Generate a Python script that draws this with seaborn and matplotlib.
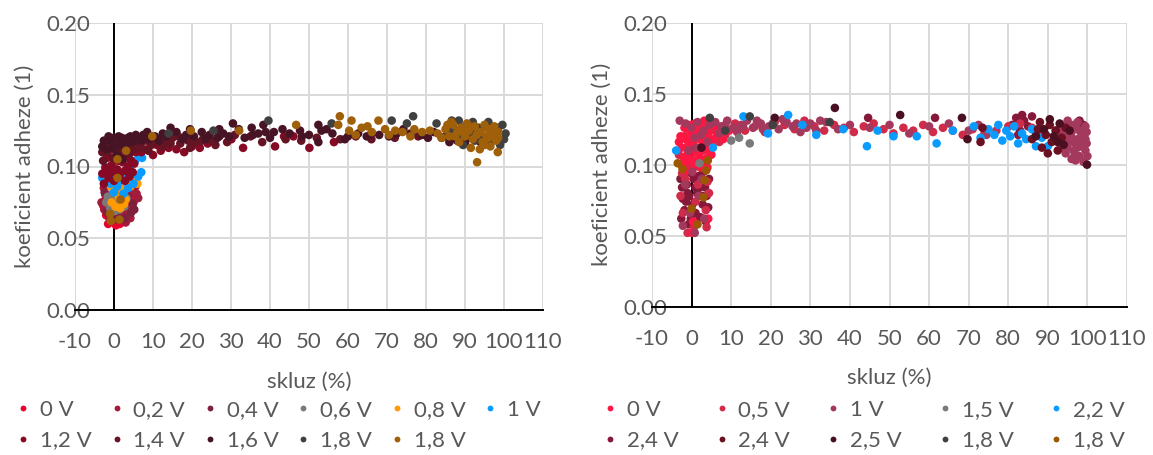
import matplotlib
matplotlib.use("Agg")
import matplotlib.pyplot as plt
from matplotlib.lines import Line2D
from matplotlib.ticker import FormatStrFormatter
import pandas as pd
import seaborn as sns

sns.set_theme(style="white")
plt.rcParams["font.family"] = ["Lato", "DejaVu Sans"]
plt.rcParams["axes.unicode_minus"] = False

TEXT = "#595959"
GRID = "#D9D9D9"
FS = 16

x_ticks = list(range(-10, 111, 10))
y_ticks = [0.00, 0.05, 0.10, 0.15, 0.20]
x_title = "skluz (%)"
y_title = "koeficient adheze (1)"

# ---------------------------------------------------------------- left chart
left_labels = ["0 V", "0,2 V", "0,4 V", "0,6 V", "0,8 V", "1 V",
               "1,2 V", "1,4 V", "1,6 V", "1,8 V", "1,8 V"]
left_colors = ["#E8002E", "#A21D3C", "#7D213F", "#7A7A7A", "#FF9A00", "#0A9BFF",
               "#860A25", "#651424", "#471426", "#404040", "#A0600A"]

l_0v = [(-2.8, 0.073), (-2.0, 0.066), (-1.5, 0.060), (-0.5, 0.062), (0.5, 0.059),
        (1.5, 0.060), (2.5, 0.063), (3.5, 0.066), (-1.0, 0.070), (1.0, 0.068),
        (2.0, 0.071), (3.0, 0.074), (-2.2, 0.080), (0.0, 0.077), (4.0, 0.070),
        (-1.8, 0.088), (4.5, 0.078), (-2.5, 0.095)]
l_02v = [(-2.5, 0.070), (-1.2, 0.064), (0.2, 0.063), (1.8, 0.065), (3.0, 0.061),
         (4.2, 0.064), (-2.0, 0.078), (-0.4, 0.072), (1.2, 0.074), (2.6, 0.069),
         (3.8, 0.072), (5.0, 0.075), (-2.6, 0.085), (0.8, 0.082), (2.4, 0.080),
         (4.6, 0.083), (5.5, 0.086), (-1.6, 0.092), (3.2, 0.090), (5.8, 0.081),
         (-3.2, 0.075), (6.2, 0.078), (-0.8, 0.080), (0.6, 0.088)]
l_04v = [(-1.8, 0.068), (0.6, 0.066), (2.8, 0.064), (4.4, 0.068), (-0.8, 0.076),
         (1.6, 0.078), (3.6, 0.079), (4.8, 0.074), (-2.4, 0.082), (0.2, 0.086),
         (2.2, 0.084), (4.0, 0.088), (-1.0, 0.090), (5.2, 0.070)]
l_06v = [(-2.0, 0.075), (-1.0, 0.071), (0.2, 0.069), (1.4, 0.070), (2.6, 0.072),
         (3.2, 0.078), (-0.4, 0.080), (1.0, 0.076), (2.2, 0.081), (-1.6, 0.079)]
l_08v = [(-0.6, 0.075), (0.4, 0.072), (1.6, 0.071), (2.6, 0.074), (0.0, 0.083),
         (1.2, 0.079), (2.0, 0.084), (-0.8, 0.086), (3.0, 0.077), (5.0, 0.090),
         (6.0, 0.088), (4.2, 0.086)]
l_1v = [(-3.0, 0.092), (-2.2, 0.100), (-1.0, 0.088), (0.0, 0.082), (0.8, 0.086),
        (1.6, 0.090), (2.4, 0.081), (-0.4, 0.095), (3.0, 0.094), (4.0, 0.098),
        (5.0, 0.088), (6.2, 0.093), (7.0, 0.096), (7.2, 0.106), (5.4, 0.104),
        (6.6, 0.107), (3.6, 0.085)]
l_12v = [(-2.6, 0.088), (-1.4, 0.092), (0.0, 0.090), (1.4, 0.094), (2.8, 0.090),
         (4.0, 0.093), (-2.2, 0.099), (-0.6, 0.101), (0.8, 0.098), (2.2, 0.103),
         (3.6, 0.100), (4.8, 0.096), (-1.8, 0.106), (1.8, 0.108), (3.4, 0.107),
         (-3.0, 0.095), (-0.2, 0.096), (1.0, 0.104), (2.8, 0.097), (4.4, 0.104),
         (-1.0, 0.097), (5.2, 0.102), (6.2, 0.112),
         (5.6, 0.110), (7.0, 0.110), (8.5, 0.112), (10.0, 0.108), (12.0, 0.111),
         (14.0, 0.113), (16.0, 0.112), (18.0, 0.110), (20.0, 0.114), (22.0, 0.113),
         (24.0, 0.116), (11.0, 0.115), (30.1, 0.119), (33.1, 0.113), (41.3, 0.114),
         (43.6, 0.121), (46.0, 0.121), (50.1, 0.113), (56.4, 0.117)]
l_14v = [(-2.8, 0.104), (-1.6, 0.110), (-0.2, 0.106), (1.0, 0.112), (2.4, 0.110),
         (3.8, 0.113), (-2.4, 0.115), (0.4, 0.117), (2.0, 0.116), (4.4, 0.118),
         (-3.0, 0.110), (-0.8, 0.114), (0.4, 0.111), (1.8, 0.113), (3.2, 0.117),
         (4.0, 0.109), (5.8, 0.118), (7.0, 0.113), (8.8, 0.111), (10.5, 0.117),
         (12.5, 0.114), (14.5, 0.116), (16.5, 0.121), (19.5, 0.113), (22.5, 0.118),
         (26.0, 0.115),
         (5.2, 0.112), (6.5, 0.116), (8.0, 0.118), (9.5, 0.115), (11.5, 0.119),
         (13.0, 0.117), (15.0, 0.120), (17.0, 0.116), (19.0, 0.118), (21.0, 0.117),
         (23.0, 0.120), (25.0, 0.118), (27.0, 0.121), (29.0, 0.117), (31.0, 0.122),
         (35.0, 0.121), (38.0, 0.117), (44.0, 0.119), (48.0, 0.118), (52.0, 0.120),
         (58.0, 0.119), (62.0, 0.121), (66.0, 0.119), (72.0, 0.120), (78.0, 0.121),
         (84.0, 0.120)]
l_16v = [(-2.0, 0.112), (-1.0, 0.118), (0.0, 0.120), (1.2, 0.121), (2.6, 0.119),
         (3.6, 0.120), (-0.4, 0.113), (1.6, 0.115), (3.0, 0.114), (4.8, 0.117),
         (-2.6, 0.118), (0.8, 0.108), (2.2, 0.105),
         (-3.0, 0.114), (-1.4, 0.121), (0.6, 0.114), (2.0, 0.120), (4.2, 0.121),
         (5.6, 0.122), (7.0, 0.118), (8.5, 0.124), (11.5, 0.118), (13.5, 0.121),
         (17.5, 0.119), (19.5, 0.126), (23.5, 0.119), (27.0, 0.126), (29.5, 0.121),
         (33.5, 0.120), (37.0, 0.123), (40.0, 0.120), (45.0, 0.123), (50.0, 0.122),
         (56.0, 0.123), (60.0, 0.121), (66.0, 0.123), (72.5, 0.123), (80.5, 0.120),
         (86.0, 0.117), (90.0, 0.116),
         (6.0, 0.120), (7.5, 0.122), (9.0, 0.119), (10.5, 0.121), (12.5, 0.123),
         (14.5, 0.127), (16.0, 0.124), (18.5, 0.122), (20.5, 0.121), (22.5, 0.124),
         (24.5, 0.122), (26.5, 0.120), (28.0, 0.123), (30.5, 0.130), (32.0, 0.126),
         (35.3, 0.127), (35.6, 0.122), (38.3, 0.129), (38.9, 0.124), (41.0, 0.124),
         (43.2, 0.126), (47.7, 0.125), (48.2, 0.121), (52.4, 0.117), (52.4, 0.129),
         (53.2, 0.125), (54.5, 0.126), (59.2, 0.119), (62.6, 0.123), (64.8, 0.121),
         (68.0, 0.122), (70.5, 0.121), (74.2, 0.126), (76.0, 0.123), (79.0, 0.122),
         (82.0, 0.124), (85.0, 0.121), (88.0, 0.118), (91.0, 0.120), (94.0, 0.117),
         (97.0, 0.119)]
l_18v = [(14.0, 0.123), (25.5, 0.125), (39.6, 0.132), (55.8, 0.130), (71.2, 0.132),
         (75.1, 0.130), (76.7, 0.135), (82.7, 0.130), (86.6, 0.132), (88.4, 0.132),
         (87.0, 0.126), (89.0, 0.121), (90.0, 0.128), (91.5, 0.124), (92.0, 0.131),
         (93.5, 0.127), (94.5, 0.121), (95.0, 0.128), (96.0, 0.131), (97.0, 0.125),
         (98.0, 0.120), (99.0, 0.115), (99.6, 0.129), (100.4, 0.123), (100.0, 0.119),
         (98.5, 0.127), (96.5, 0.116), (92.5, 0.118), (89.5, 0.115), (85.5, 0.124)]
l_18v_b = [(-0.8, 0.062), (1.4, 0.063), (-1.0, 0.067), (1.7, 0.077), (0.9, 0.092),
           (0.9, 0.105), (3.1, 0.111),
           (9.8, 0.121), (19.7, 0.125), (32.1, 0.125), (46.7, 0.129), (57.9, 0.135),
           (57.5, 0.129), (60.9, 0.132), (60.3, 0.125), (62.0, 0.122), (63.5, 0.127),
           (65.0, 0.128), (66.1, 0.124), (67.8, 0.132), (69.5, 0.126), (70.5, 0.122),
           (72.1, 0.125), (74.0, 0.124), (76.0, 0.121), (77.0, 0.126), (79.0, 0.124),
           (81.0, 0.125), (83.0, 0.123), (84.0, 0.120), (85.0, 0.126), (86.0, 0.121),
           (86.5, 0.131), (87.0, 0.129), (88.0, 0.124), (88.5, 0.117), (89.0, 0.127),
           (90.0, 0.121), (90.5, 0.130), (91.0, 0.125), (91.5, 0.113), (92.0, 0.119),
           (92.5, 0.128), (93.1, 0.103), (93.8, 0.112), (94.0, 0.124), (94.5, 0.117),
           (95.0, 0.129), (95.5, 0.121), (96.0, 0.126), (96.5, 0.114), (97.0, 0.122),
           (97.5, 0.128), (98.0, 0.118), (98.4, 0.110), (98.5, 0.124),
           (85.5, 0.129), (87.5, 0.121), (89.5, 0.124), (91.0, 0.128), (93.0, 0.122),
           (95.0, 0.115), (96.0, 0.120), (97.0, 0.125), (98.5, 0.120)]

left_series = [l_0v, l_02v, l_04v, l_06v, l_08v, l_1v,
               l_12v, l_14v, l_16v, l_18v, l_18v_b]
left_draw_order = list(range(11))

# --------------------------------------------------------------- right chart
right_labels = ["0 V", "0,5 V", "1 V", "1,5 V", "2,2 V",
                "2,4 V", "2,4 V", "2,5 V", "1,8 V", "1,8 V"]
right_colors = ["#FF1744", "#D02C4A", "#A33A5E", "#7A7A7A", "#0A9BFF",
                "#86183A", "#6B1020", "#4A1022", "#404040", "#9C5800"]

r_0v = [(-2.5, 0.112), (-1.5, 0.118), (-0.5, 0.121), (0.5, 0.116), (1.5, 0.120),
        (2.5, 0.117), (3.5, 0.114), (4.5, 0.110), (-2.0, 0.105), (-1.0, 0.108),
        (0.0, 0.104), (1.0, 0.109), (2.0, 0.106), (3.0, 0.103), (4.0, 0.105),
        (5.0, 0.107), (-1.8, 0.126), (-0.2, 0.128), (1.2, 0.125), (2.8, 0.127),
        (4.2, 0.122), (5.6, 0.118), (6.5, 0.121), (-2.8, 0.120), (0.8, 0.100),
        (2.2, 0.098), (-1.2, 0.096), (0.4, 0.060), (0.2, 0.052), (8.0, 0.118),
        (9.5, 0.124), (12.0, 0.126), (3.2, 0.131),
        (-3.2, 0.116), (-0.8, 0.124), (0.8, 0.129), (2.0, 0.124), (3.8, 0.125),
        (5.2, 0.113), (6.0, 0.127), (-1.6, 0.102), (1.4, 0.103), (2.6, 0.111),
        (-0.4, 0.115), (4.0, 0.098), (4.2, 0.062)]
r_05v = [(-2.6, 0.100), (-1.0, 0.113), (0.6, 0.122), (2.2, 0.112), (3.8, 0.118),
         (-1.6, 0.090), (1.6, 0.086), (-2.2, 0.066), (1.0, 0.074), (3.6, 0.068),
         (0.6, 0.056), (-2.8, 0.078), (4.0, 0.088),
         (-3.2, 0.107), (-1.8, 0.120), (0.0, 0.116), (1.8, 0.126), (3.0, 0.110),
         (4.6, 0.114), (5.8, 0.124), (7.0, 0.116), (-0.2, 0.100), (3.6, 0.097),
         (-2.4, 0.094), (4.4, 0.080), (-1.0, 0.052), (3.8, 0.056),
         (6.0, 0.126), (8.5, 0.121), (11.0, 0.129), (13.5, 0.124), (16.0, 0.127),
         (18.5, 0.123), (21.0, 0.130), (23.5, 0.128), (26.0, 0.125), (28.5, 0.131),
         (31.0, 0.127), (33.5, 0.124), (36.0, 0.128), (38.5, 0.126), (41.0, 0.123),
         (43.5, 0.127), (46.0, 0.129), (48.5, 0.125), (51.0, 0.122), (53.5, 0.126),
         (56.0, 0.124), (58.5, 0.128), (61.0, 0.123), (63.5, 0.126), (66.0, 0.124),
         (68.5, 0.121), (71.0, 0.125), (74.0, 0.122), (77.0, 0.124), (80.0, 0.127),
         (83.0, 0.129), (86.0, 0.126), (89.0, 0.122), (92.0, 0.124), (95.0, 0.120),
         (97.5, 0.116)]
r_1v = [(-3.0, 0.131), (-1.5, 0.129), (0.0, 0.126), (1.5, 0.130), (3.0, 0.124),
        (4.5, 0.128), (6.0, 0.130), (7.5, 0.127), (0.8, 0.119), (2.4, 0.121),
        (4.0, 0.116), (-0.8, 0.110), (1.2, 0.112), (0.2, 0.095), (-1.6, 0.086),
        (1.8, 0.078), (-0.4, 0.066), (0.8, 0.052), (-2.2, 0.057), (2.6, 0.090),
        (3.2, 0.062),
        (7.0, 0.122), (8.5, 0.128), (11.5, 0.123), (13.0, 0.127), (16.5, 0.131),
        (18.0, 0.125), (20.5, 0.129), (23.0, 0.132), (25.5, 0.127), (27.5, 0.123),
        (30.0, 0.129), (32.5, 0.131),
        (9.0, 0.131), (10.5, 0.126), (12.5, 0.128), (14.0, 0.131), (15.5, 0.126),
        (17.5, 0.129), (19.5, 0.127), (22.0, 0.125), (24.0, 0.130), (26.5, 0.129),
        (29.0, 0.126), (31.5, 0.124), (34.0, 0.130), (37.0, 0.125), (40.0, 0.128),
        (45.0, 0.126), (50.0, 0.128), (55.0, 0.122), (60.0, 0.127), (65.0, 0.129),
        (70.0, 0.124), (72.5, 0.128), (74.5, 0.121),
        (92.0, 0.118), (93.0, 0.125), (93.5, 0.112), (94.0, 0.120), (94.0, 0.127),
        (95.0, 0.128), (95.0, 0.112), (95.5, 0.116), (96.0, 0.123), (96.0, 0.119),
        (96.5, 0.110), (96.8, 0.107), (97.0, 0.127), (97.0, 0.103), (97.5, 0.118),
        (97.5, 0.130), (98.0, 0.124), (98.0, 0.106), (98.5, 0.113), (98.5, 0.117),
        (99.0, 0.120), (99.0, 0.102), (99.0, 0.124), (99.5, 0.127), (99.5, 0.110),
        (99.8, 0.115), (93.5, 0.122), (94.5, 0.115), (95.5, 0.125), (96.5, 0.128),
        (97.5, 0.112), (98.5, 0.122), (99.5, 0.118), (100.0, 0.106), (96.0, 0.104),
        (94.5, 0.108), (97.0, 0.115), (99.8, 0.123), (95.0, 0.131)]
r_15v = [(10.0, 0.117), (14.7, 0.115), (12.0, 0.119), (2.0, 0.101)]
r_22v = [(-3.9, 0.110), (5.4, 0.112), (13.1, 0.134), (19.3, 0.122), (24.4, 0.135),
         (28.0, 0.128), (31.5, 0.121), (38.3, 0.125), (44.3, 0.113), (47.0, 0.124),
         (51.0, 0.120), (56.9, 0.120), (61.9, 0.115), (66.0, 0.124), (71.3, 0.127),
         (73.0, 0.119), (75.0, 0.125), (76.5, 0.121), (77.5, 0.128), (78.5, 0.117),
         (79.5, 0.124), (80.5, 0.120), (81.5, 0.127), (82.5, 0.115), (83.5, 0.122),
         (84.5, 0.118), (86.0, 0.125), (87.0, 0.113), (88.5, 0.119), (90.0, 0.113)]
r_24v = [(-1.0, 0.080), (0.5, 0.090), (2.0, 0.084), (3.0, 0.095), (-2.0, 0.092),
         (1.0, 0.066), (2.8, 0.072), (-1.4, 0.074), (-0.2, 0.062), (3.4, 0.084),
         (-2.4, 0.084), (1.4, 0.080), (0.2, 0.072),
         (-2.6, 0.062), (-1.8, 0.068), (-0.8, 0.058), (0.8, 0.060), (2.2, 0.063),
         (3.6, 0.060), (4.2, 0.070), (-2.8, 0.090), (-1.2, 0.086), (0.0, 0.094),
         (1.8, 0.092), (3.8, 0.078), (4.4, 0.090), (-0.6, 0.078), (2.6, 0.078),
         (-2.2, 0.076), (1.0, 0.084), (0.4, 0.098), (-1.6, 0.098), (2.8, 0.100),
         (44.6, 0.133), (61.5, 0.133), (81.0, 0.128), (82.0, 0.133), (83.0, 0.124),
         (84.0, 0.131), (85.0, 0.127), (86.0, 0.134), (83.5, 0.135), (87.0, 0.122),
         (82.5, 0.121), (97.5, 0.127), (99.0, 0.128), (98.0, 0.131)]
r_24v_b = [(73.0, 0.116), (73.5, 0.126), (86.0, 0.118), (87.5, 0.125), (88.5, 0.112),
           (89.5, 0.121), (90.5, 0.128), (91.0, 0.116), (92.0, 0.124), (92.5, 0.110),
           (93.5, 0.119), (94.5, 0.126), (90.0, 0.108), (88.0, 0.130)]
r_25v = [(36.2, 0.140), (52.7, 0.135), (68.3, 0.133), (69.7, 0.118), (21.0, 0.133),
         (89.0, 0.125), (91.5, 0.120), (93.0, 0.129), (94.0, 0.114), (95.5, 0.124),
         (99.9, 0.100), (87.0, 0.120), (90.5, 0.132), (92.5, 0.116), (2.5, 0.112)]
r_18v = [(4.6, 0.133), (14.7, 0.134), (34.9, 0.130), (20.5, 0.128), (8.5, 0.124)]
r_18v_b = [(-3.5, 0.101), (4.1, 0.103), (3.7, 0.096), (3.3, 0.089), (3.0, 0.077),
           (0.0, 0.069), (1.5, 0.058), (-2.3, 0.097)]

right_series = [r_0v, r_05v, r_1v, r_15v, r_22v,
                r_24v, r_24v_b, r_25v, r_18v, r_18v_b]
# darker low-slip cloud first, the brighter series over it
right_draw_order = [5, 1, 0, 2, 3, 4, 6, 7, 8, 9]


def frame(series, order):
    parts = []
    for i in order:
        pts = series[i]
        parts.append(pd.DataFrame({"slip": [p[0] for p in pts],
                                   "mu": [p[1] for p in pts],
                                   "key": f"s{i}"}))
    return pd.concat(parts, ignore_index=True)


def panel(ax, series, order, labels, colors, ncol, legend_x, colspacing):
    data = frame(series, order)
    palette = {f"s{i}": c for i, c in enumerate(colors)}
    ax.axvline(0, color="black", lw=1.4, zorder=1.5)
    sns.scatterplot(data=data, x="slip", y="mu", hue="key", palette=palette,
                    s=38, linewidth=0, alpha=1, legend=False, ax=ax, zorder=2)
    ax.set_xlim(-10, 110)
    ax.set_ylim(0, 0.2)
    ax.set_xticks(x_ticks)
    ax.set_yticks(y_ticks)
    ax.yaxis.set_major_formatter(FormatStrFormatter("%.2f"))
    ax.grid(True, color=GRID, linewidth=1.4)
    ax.set_axisbelow(True)
    for side in ("top", "right", "left"):
        ax.spines[side].set_visible(False)
    ax.spines["bottom"].set_color("black")
    ax.spines["bottom"].set_linewidth(1.4)
    ax.tick_params(axis="both", length=0, labelsize=FS, labelcolor=TEXT)
    ax.tick_params(axis="y", pad=-11)
    ax.tick_params(axis="x", pad=16)
    ax.set_xlabel(x_title, fontsize=FS, color=TEXT)
    ax.set_ylabel(y_title, fontsize=FS, color=TEXT)
    ax.xaxis.set_label_coords(0.5, -0.215)
    ax.yaxis.set_label_coords(-0.085, 0.5)

    # legend laid out row by row (matplotlib fills columns first)
    nrows = 2
    idx = []
    for c in range(ncol):
        for r in range(nrows):
            k = r * ncol + c
            if k < len(labels):
                idx.append(k)
    handles = [Line2D([], [], ls="none", marker="o", markersize=4.2,
                      markerfacecolor=colors[k], markeredgewidth=0) for k in idx]
    fig.legend(handles, [labels[k] for k in idx], ncol=ncol, loc="upper left",
               bbox_to_anchor=(legend_x, 0.1215), frameon=False, fontsize=FS,
               labelcolor=TEXT, handlelength=0.6, handletextpad=0.45,
               columnspacing=colspacing, labelspacing=0.48, borderpad=0,
               borderaxespad=0)


fig = plt.figure(figsize=(11.53, 4.55), dpi=100)
ax_l = fig.add_axes([75 / 1153, 1 - 310 / 455, 468 / 1153, 287 / 455])
ax_r = fig.add_axes([652 / 1153, 1 - 306.7 / 455, 475 / 1153, 284 / 455])

panel(ax_l, left_series, left_draw_order, left_labels, left_colors, 6, 0.0145, 0.82)
panel(ax_r, right_series, right_draw_order, right_labels, right_colors, 5, 0.5235, 1.64)

fig.savefig("out.png", dpi=100)
